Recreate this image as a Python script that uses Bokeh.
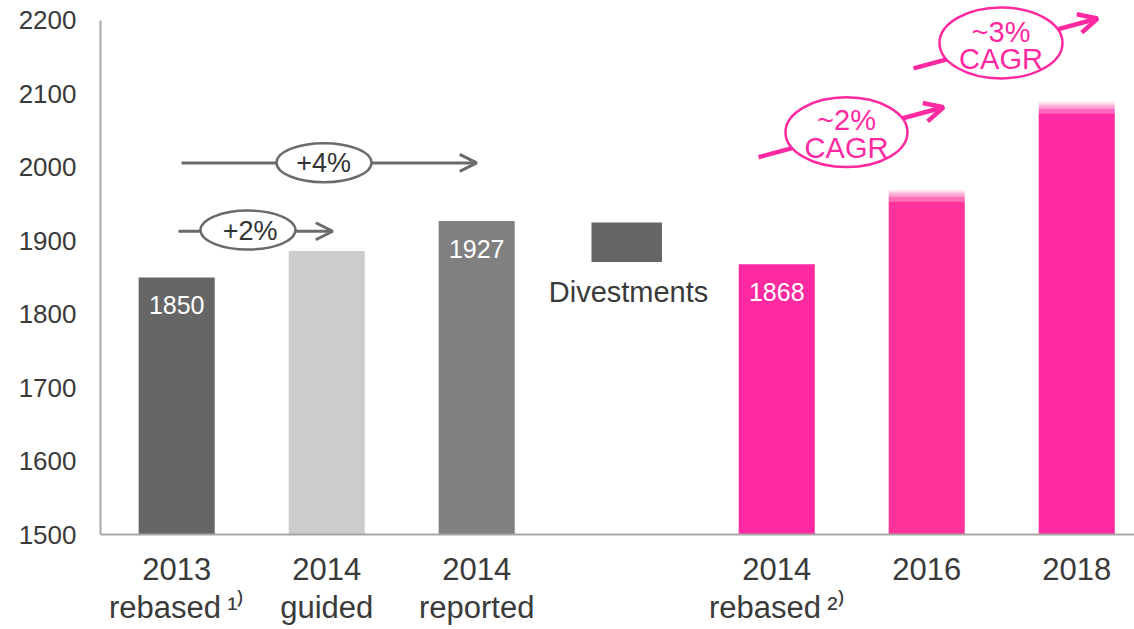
from bokeh.plotting import figure
from bokeh.models import Range1d, FixedTicker, Arrow, OpenHead
from bokeh.embed import file_html
from bokeh.resources import INLINE
from bokeh.core.properties import value

# ---------------- data ----------------
categories = ["2013\nrebased\u2009\u00b9\u207e", "2014\nguided", "2014\nreported", "Divestments",
              "2014\nrebased\u2009\u00b2\u207e", "2016", "2018"]
bar_idx = [0, 1, 2, 4, 5, 6]
bar_values = [1850, 1886, 1927, 1868, 1970, 2090]
bar_colors = ["#666666", "#cccccc", "#808080", "#FF29A1", "#FF3399", "#FF29A1"]
bar_faded = [False, False, False, False, True, True]
value_labels = ["1850", "", "1927", "1868", "", ""]
divest_idx = 3
divest_low = 1871
divest_high = 1925
y_ticks = [1500, 1600, 1700, 1800, 1900, 2000, 2100, 2200]

growth_text = ["+2%", "+4%", "~2%", "~3%"]
growth_text2 = ["", "", "CAGR", "CAGR"]

FONT = "Liberation Sans"
GRAY = "#6b6b6b"
PINK = "#FF29A1"
TXT = "#3a3a3a"

p = figure(width=1134, height=628, output_backend="svg", toolbar_location=None,
           x_range=Range1d(-0.508, 6.385), y_range=Range1d(1500, 2227.2),
           min_border_left=100, min_border_right=0, min_border_top=0,
           min_border_bottom=93)
p.outline_line_color = None
p.xgrid.visible = False
p.ygrid.visible = False
p.background_fill_color = "white"

# ---------------- bars ----------------
BW = 0.507
FADE = 17
for i, v, c, f in zip(bar_idx, bar_values, bar_colors, bar_faded):
    if not f:
        p.vbar(x=[i], top=[v], bottom=[1500], width=BW, color=c, line_color=None)
    else:
        solid = v - FADE
        p.vbar(x=[i], top=[solid], bottom=[1500], width=BW, color=c, line_color=None)
        n = 10
        for k in range(n):
            lo = solid + FADE * k / n
            hi = solid + FADE * (k + 1) / n
            a = 1.0 - (k + 0.5) / n
            p.vbar(x=[i], top=[hi], bottom=[lo], width=BW, color=c,
                   fill_alpha=a, line_color=None)

# divestments floating box
p.vbar(x=[divest_idx], top=[divest_high], bottom=[divest_low], width=0.47,
       color="#666666", line_color=None)
p.text(x=[divest_idx + 0.012], y=[divest_low], text=["Divestments"], y_offset=30,
       text_align="center", text_baseline="alphabetic", text_font=value(FONT),
       text_font_size="29px", text_color=TXT)

# value labels inside bars
lx = [i for i, t in zip(bar_idx, value_labels) if t]
ly = [v for v, t in zip(bar_values, value_labels) if t]
lt = [t for t in value_labels if t]
p.text(x=lx, y=ly, text=lt, y_offset=28, text_align="center",
       text_baseline="alphabetic", text_font=value(FONT), text_font_size="25px",
       text_color="white")

# ---------------- growth arrows ----------------
def arrow(x0, y0, x1, y1, color, lw, size):
    a = Arrow(end=OpenHead(size=size, line_color=color, line_width=lw),
              x_start=x0, y_start=y0, x_end=x1, y_end=y1,
              line_color=color, line_width=lw, level="underlay")
    p.add_layout(a)

# gray arrows (2013 -> 2014 guided, 2013 -> 2014 reported)
arrow(0.012, 1913, 1.04, 1913, GRAY, 3, 17)
arrow(0.032, 2006, 2.0, 2006, GRAY, 3, 17)
p.ellipse(x=[0.475, 0.982], y=[1914.6, 2006.3], width=[0.633, 0.633],
          height=[53, 53], fill_color="white", line_color=GRAY, line_width=2.5)
p.text(x=[0.49, 0.98], y=[1901, 1993.4], text=growth_text[:2], text_align="center",
       text_baseline="alphabetic", text_font=value(FONT), text_font_size="27px",
       y_offset=-9, text_color="#333333")

# pink arrows (CAGR)
arrow(3.879, 2013.8, 5.112, 2081.8, PINK, 4.5, 19)
arrow(4.912, 2134.8, 6.139, 2202.7, PINK, 4.5, 19)
p.ellipse(x=[4.465, 5.495], y=[2047.8, 2169.4], width=[0.813, 0.82],
          height=[95, 96.5], fill_color="white", line_color=PINK, line_width=2.5)
p.text(x=[4.465, 5.495], y=[2053.2, 2172.8], text=growth_text[2:], text_align="center",
       text_baseline="alphabetic", text_font=value(FONT), text_font_size="29px",
       y_offset=-8, text_color=PINK)
p.text(x=[4.465, 5.495], y=[2013.8, 2134.8], text=growth_text2[2:], text_align="center",
       text_baseline="alphabetic", text_font=value(FONT), text_font_size="29px",
       y_offset=-9, text_color=PINK)

# ---------------- axes ----------------
xa = p.xaxis[0]
xa.ticker = FixedTicker(ticks=bar_idx)
xa.major_label_overrides = {i: categories[i] for i in bar_idx}
xa.major_label_text_font = FONT
xa.major_label_text_font_size = "31px"
xa.major_label_text_color = TXT
xa.major_label_text_line_height = 1.1
xa.major_label_standoff = 17
xa.major_tick_out = 0
xa.major_tick_in = 0
xa.minor_tick_out = 0
xa.minor_tick_in = 0
xa.axis_line_color = "#a6a6a6"
xa.axis_line_width = 2

ya = p.yaxis[0]
ya.ticker = FixedTicker(ticks=y_ticks)
ya.bounds = (1500, 2200)
ya.major_label_text_font = FONT
ya.major_label_text_font_size = "26px"
ya.major_label_text_color = TXT
ya.major_label_standoff = 24
ya.major_tick_out = 0
ya.major_tick_in = 0
ya.minor_tick_out = 0
ya.minor_tick_in = 0
ya.axis_line_color = "#a6a6a6"
ya.axis_line_width = 2

open("out.html", "w").write(file_html(p, INLINE))
